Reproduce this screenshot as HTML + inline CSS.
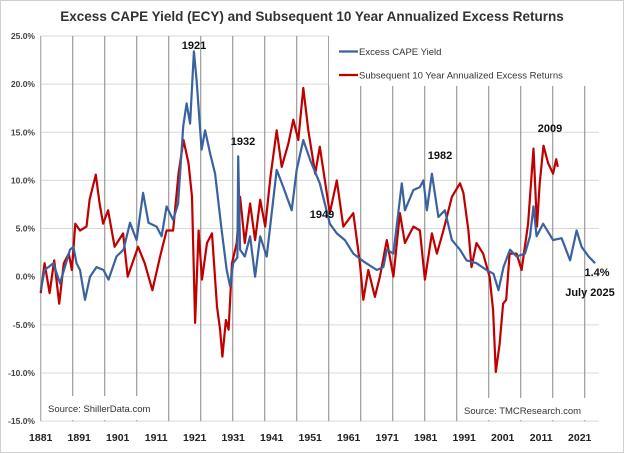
<!DOCTYPE html>
<html><head><meta charset="utf-8"><style>
body{margin:0;background:#fff;}
svg{display:block;font-family:"Liberation Sans",sans-serif;}
</style></head><body>
<svg id="chart" width="624" height="453" viewBox="0 0 624 453" xmlns="http://www.w3.org/2000/svg">
<rect x="0.5" y="0.5" width="623" height="452" fill="#fff" stroke="#d0d0d0"/>
<text x="312" y="21" text-anchor="middle" font-size="13.5" font-weight="bold" fill="#333">Excess CAPE Yield (ECY) and Subsequent 10 Year Annualized Excess Returns</text>
<g id="hgrid"></g><g id="vgrid"></g><g id="yticks"></g><g id="xticks"></g>
<g id="boxes">
<rect x="329" y="34" width="270" height="52" fill="#fff"/>
<rect x="45" y="396" width="104" height="24" fill="#fff"/>
<rect x="458" y="398" width="130" height="22" fill="#fff"/>
</g>
<g id="series"></g>
<g>
<line x1="339" y1="51.5" x2="358" y2="51.5" stroke="#3a62a0" stroke-width="2.2"/>
<text x="359" y="55" font-size="9.5" fill="#333">Excess CAPE Yield</text>
<line x1="339" y1="75" x2="358" y2="75" stroke="#c00000" stroke-width="2.2"/>
<text x="359" y="78.5" font-size="9.5" fill="#333">Subsequent 10 Year Annualized Excess Returns</text>
</g>
<text x="48" y="412" font-size="9.5" fill="#333">Source: ShillerData.com</text>
<text x="464" y="414" font-size="9.5" fill="#333">Source: TMCResearch.com</text>
<g font-size="11" font-weight="bold" fill="#111">
<text x="194" y="49" text-anchor="middle">1921</text>
<text x="243" y="145" text-anchor="middle">1932</text>
<text x="322" y="218" text-anchor="middle">1949</text>
<text x="440" y="159" text-anchor="middle">1982</text>
<text x="550" y="132" text-anchor="middle">2009</text>
<text x="597" y="276" text-anchor="middle">1.4%</text>
<text x="590" y="296" text-anchor="middle">July 2025</text>
</g>
</svg>
<script>
const yTicks=[25,20,15,10,5,0,-5,-10,-15];
const xTickYears=[1881,1891,1901,1911,1921,1931,1941,1951,1961,1971,1981,1991,2001,2011,2021];
const ecyYears=[1881,1882,1884.3,1886,1888.6,1889.5,1890.3,1891.2,1892.5,1893.8,1895.5,1897.3,1898.6,1900.7,1902.5,1904.2,1905.9,1907.6,1909,1911.1,1912.4,1913.7,1915.4,1916.7,1918,1918.9,1919.8,1920.8,1921.5,1922.8,1923.7,1925,1926.3,1928,1929.3,1930.2,1931,1932.1,1932.3,1932.8,1934,1935.4,1936.7,1938,1939.7,1941,1942.3,1944,1946.2,1947.5,1949.2,1951,1953.5,1956.1,1957.9,1960,1962.2,1964.8,1968.3,1970,1970.9,1972.6,1974.8,1975.6,1977.8,1979.5,1980.4,1981.3,1982.6,1984.3,1986,1987.8,1989.9,1991.6,1994.2,1996.8,1998.6,1999.9,2001.2,2002.9,2004.6,2006.8,2008.1,2009,2009.8,2011.5,2014.1,2016.3,2018.5,2020.2,2021.5,2023.3,2025];
const ecyValues=[-1.4,0.7,1.4,-0.7,2.8,3.1,1.4,0.7,-2.4,0,1.0,0.7,-0.3,2.1,2.8,5.6,3.8,8.7,5.6,5.2,4.2,7.3,5.9,7.6,15.6,18.0,15.9,23.4,20.4,13.2,15.2,12.8,10.7,4.8,0.7,-1.0,1.4,2.0,12.5,2.8,2.1,4.2,0,4.2,2.1,6.6,11.1,9.3,6.9,11.1,14.2,12.1,9.7,5.5,4.5,3.8,2.4,1.6,0.7,1.0,2.8,2.4,9.7,6.9,9.0,9.3,10.0,6.9,10.7,6.2,6.9,3.8,2.8,1.7,1.4,0.7,0.3,-1.4,1.0,2.8,2.1,2.4,4.2,7.3,4.2,5.5,3.8,4.0,1.7,4.8,3.1,2.1,1.4];
const retYears=[1881,1882,1883.3,1884.5,1885.8,1887,1888.3,1889.1,1890,1891.2,1892.9,1893.7,1895.3,1896.3,1897.2,1898.5,1900.2,1902.4,1903.6,1906.3,1908,1910,1912,1913.7,1915.4,1916.8,1918.1,1919.4,1920.3,1921.1,1922,1922.9,1924.2,1925.5,1926.8,1927.6,1928.2,1929.1,1929.8,1930.7,1931.9,1932.8,1934,1935.4,1936.7,1938,1939.3,1940.7,1942.3,1943.6,1945.3,1946.6,1947.9,1949.2,1950.5,1952.3,1953.5,1956.1,1957.9,1959.6,1962.2,1963.9,1964.8,1966.1,1967.8,1969.1,1970.9,1972.6,1974.3,1975.6,1977.8,1979.5,1980.8,1982.6,1983.9,1985.6,1987.8,1989.9,1990.8,1992.1,1992.9,1994.2,1995.9,1997.6,1998.5,1999.2,2000.2,2001.1,2001.9,2002.8,2004.6,2005.9,2007.6,2009,2009.9,2010.6,2011.6,2012.8,2014.1,2014.9,2015.3];
const retValues=[-1.7,1.4,-1.7,1.7,-2.8,1.4,2.4,0.7,5.5,4.8,5.2,8.0,10.6,7.6,5.5,6.9,3.1,4.5,0,3.1,1.4,-1.4,2.1,4.8,4.8,10.7,14.2,11.8,8.3,-4.8,4.8,-0.3,3.5,4.5,-3.1,-5.5,-8.3,-4.5,-5.5,1.4,3.5,8.3,3.5,7.6,3.8,8.0,5.2,10.4,15.2,11.4,13.8,16.3,14.2,19.6,15.2,10.7,13.5,6.6,10.0,5.2,6.6,1.4,-2.4,0.7,-2.1,0,3.8,0,6.6,3.5,5.2,4.8,-0.3,4.5,2.4,4.8,8.3,9.7,8.7,4.8,1.0,3.5,2.4,0,-3.5,-9.9,-7.0,-2.8,-2.4,2.4,2.4,0.7,5.5,13.3,5.2,9.7,13.6,11.8,10.7,12.2,11.4];

const NS='http://www.w3.org/2000/svg';
const L=40.7,R=599,Y0=276.7,PPV=9.63,X0=1881,PPY=3.85;
const yScale=v=>Y0-v*PPV;
const xScale=y=>L+(y-X0)*PPY;
function mk(tag,attrs,parent){const e=document.createElementNS(NS,tag);for(const k in attrs)e.setAttribute(k,attrs[k]);document.getElementById(parent).appendChild(e);return e;}

yTicks.forEach(v=>{
  const g=mk('line',{x1:L,x2:R,y1:yScale(v),y2:yScale(v),stroke:'#d9d9d9','stroke-width':1},'hgrid');
  
  
  const t=mk('text',{x:35,y:yScale(v)+3,'text-anchor':'end','font-size':8.5,'font-weight':'bold',fill:'#444'},'yticks');
  t.textContent=v.toFixed(1)+'%';
  
  
});
for(let k=0;k<18;k++){
  const x=L+k*32.0;
  const g=mk('line',{x1:x,x2:x,y1:yScale(25),y2:yScale(-15),stroke:k==0?'#aaa':'#9a9a9a','stroke-width':1.2},'vgrid');
  
  
}
xTickYears.forEach(yr=>{
  const t=mk('text',{x:xScale(yr),y:441,'text-anchor':'middle','font-size':10.5,'font-weight':'bold',fill:'#222'},'xticks');
  t.textContent=yr;
  
  
});
function line(years,vals,color,name){
  const d=years.map((y,i)=>(i?'L':'M')+xScale(y).toFixed(1)+','+yScale(vals[i]).toFixed(1)).join('');
  const p=mk('path',{d:d,fill:'none',stroke:color,'stroke-width':2.2,'stroke-linejoin':'round'},'series');
  
  
}
line(retYears,retValues,'#c00000','returns-line');
line(ecyYears,ecyValues,'#3a62a0','ecy-line');
</script>
</body></html>
